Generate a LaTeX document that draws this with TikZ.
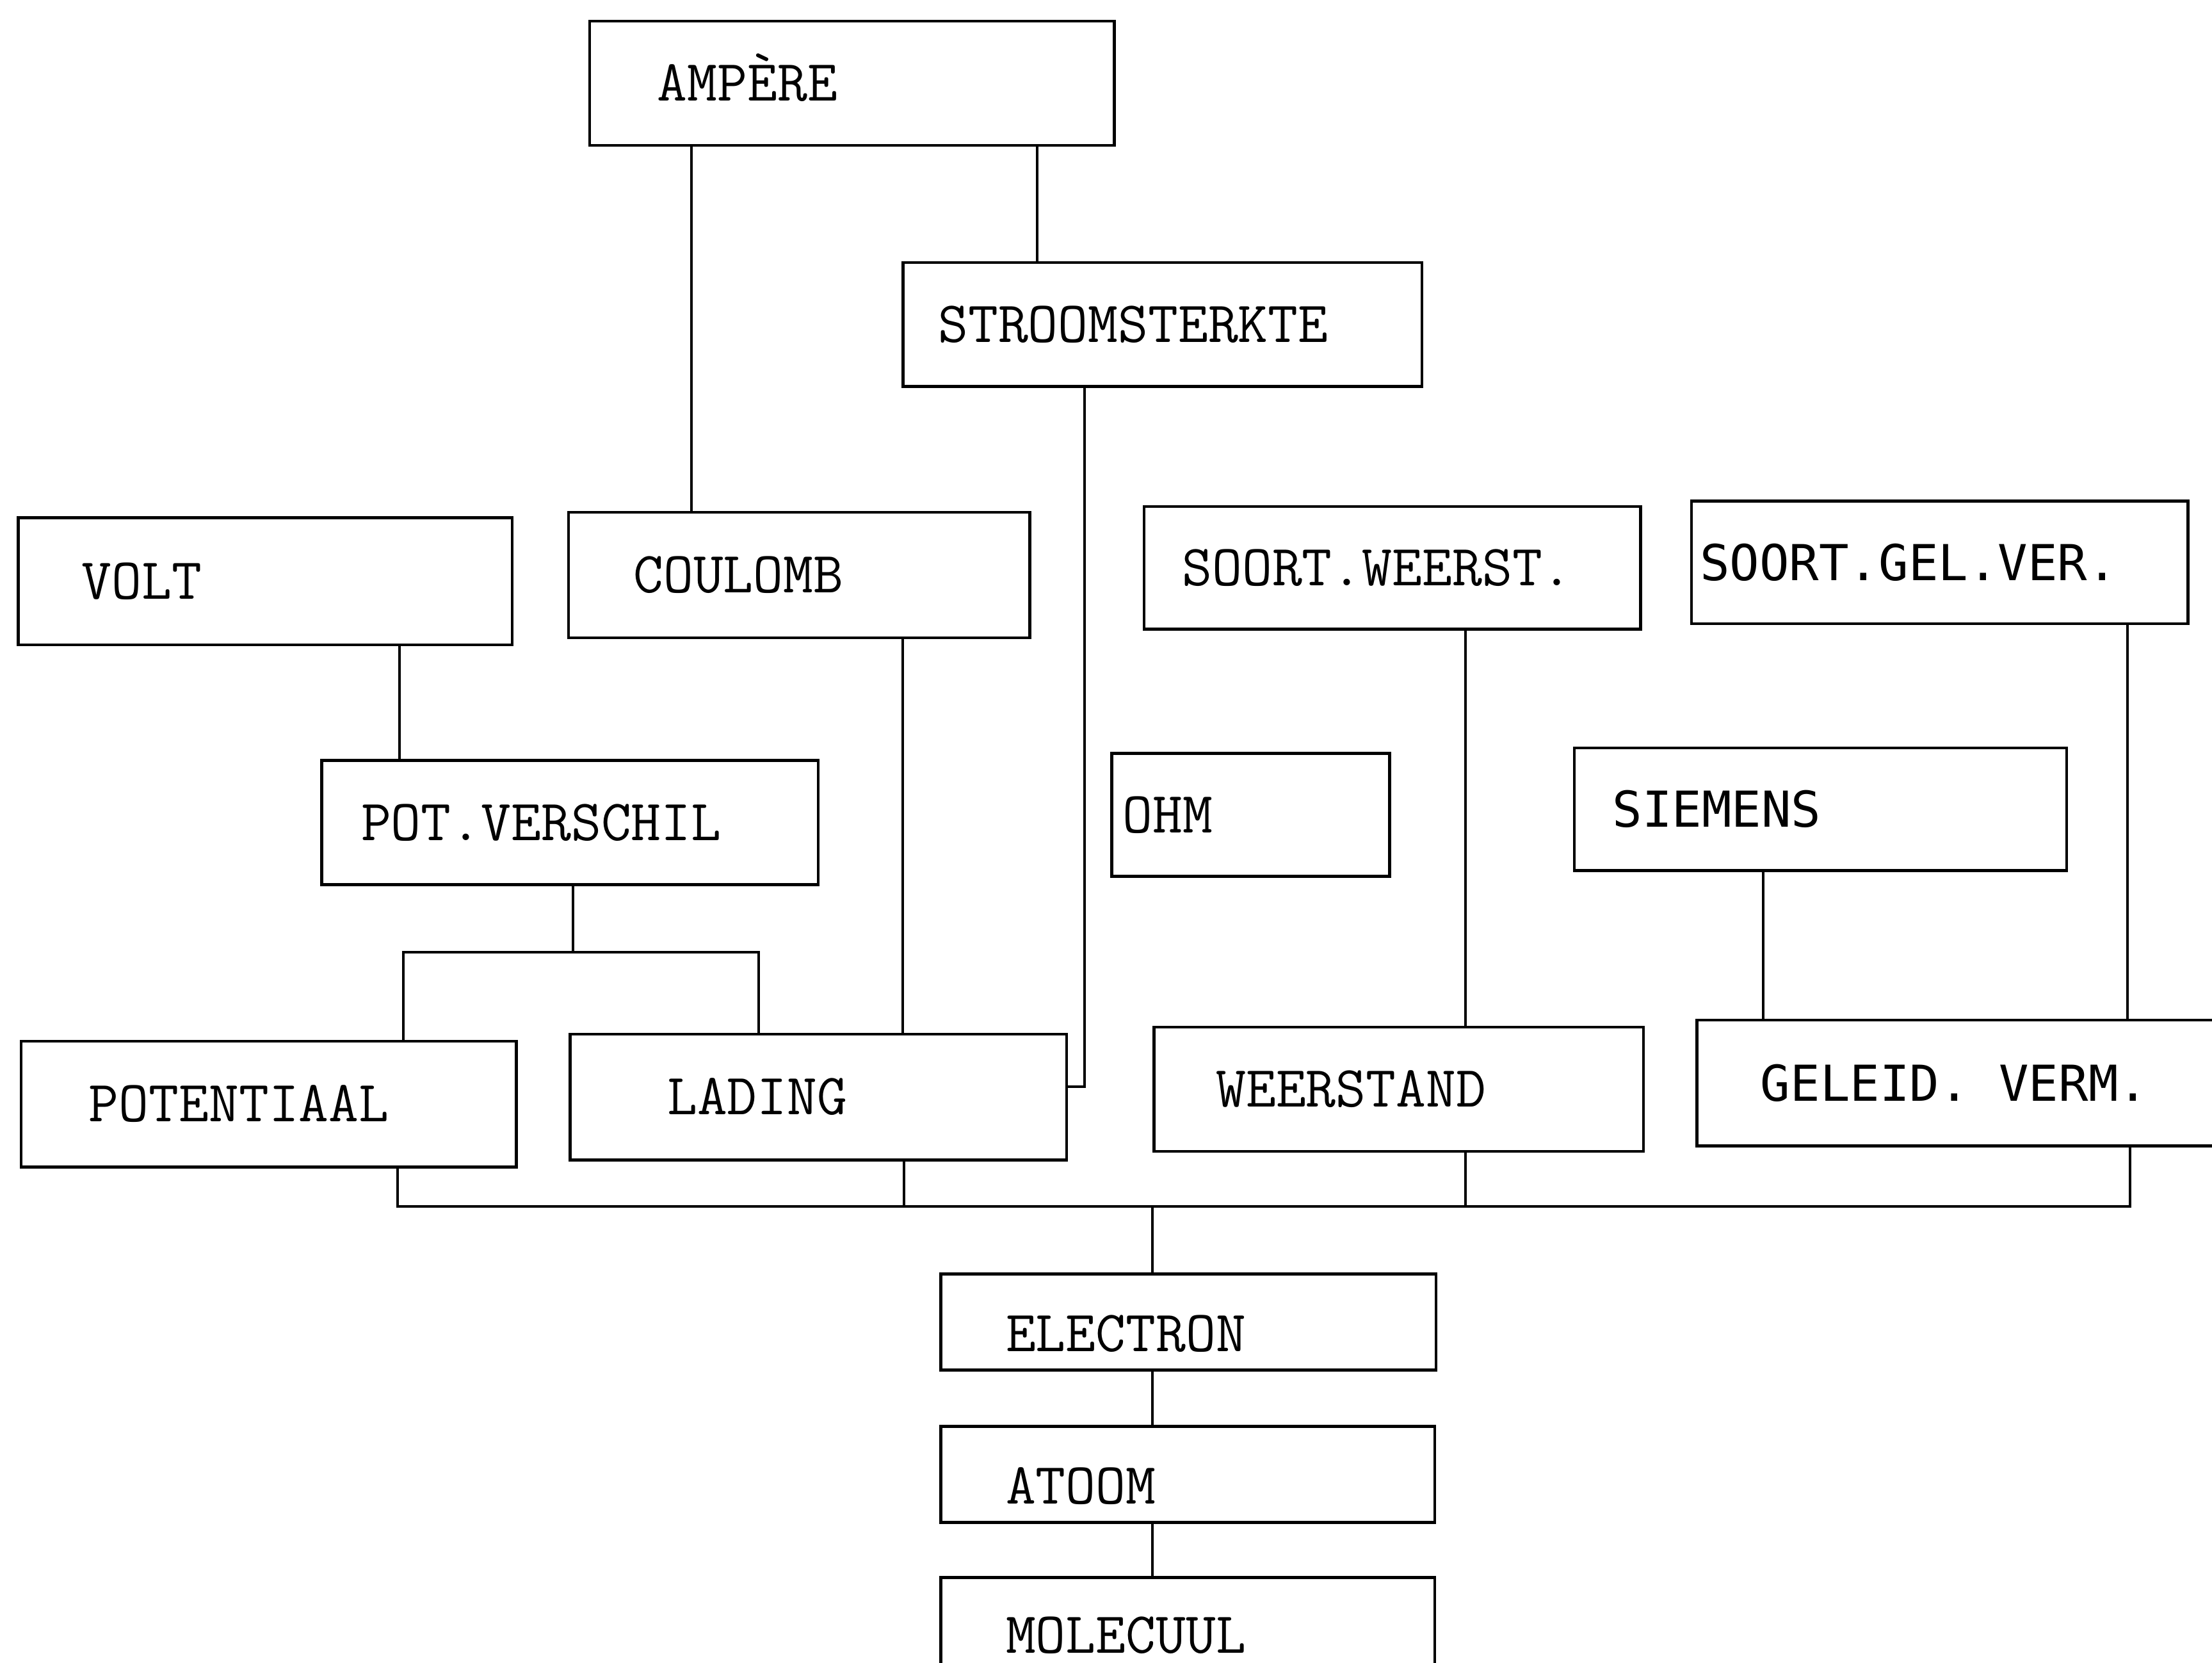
\documentclass[tikz,border=0pt]{standalone}
\usepackage{fontspec}
\newfontfamily\sansmono{DejaVu Sans Mono}
\newcommand\mkbox[8][]{%
  \pgfmathsetmacro\bxw{#5-#3}%
  \pgfmathsetmacro\bxh{#6-#4}%
  \pgfmathsetmacro\bxl{#7-#3}%
  \pgfmathsetmacro\bxt{\bxw-2*\bxl}%
  \node[tbox,#1,minimum width=\bxw pt,minimum height=\bxh pt,inner xsep=\bxl pt,inner ysep=0pt]
    (#2) at ({(#3+#5)/2},{(#4+#6)/2}) {\hbox to \bxt pt{#8\hss}};}
\begin{document}
\begin{tikzpicture}[x=1pt,y=-1pt,
  tbox/.style={draw,line width=2.1pt,rectangle,font=\ttfamily\fontsize{41.3}{49}\selectfont,text height=25.2pt,text depth=0pt},
  sbox/.style={font=\sansmono\fontsize{35.1}{42}\selectfont,text height=25.4pt},
  low/.style={text height=41.2pt},
  conn/.style={line width=1.8pt}]
\useasboundingbox (0,0) rectangle (1568,1178.6);
\fill[white] (0,0) rectangle (1568,1178.6);
\clip (0,0) rectangle (1568,1178.6);

% boxes: name, x1, y1, x2, y2, text x, text
\mkbox{ampere}{418}{15}{790}{103}{466}{AMPÈRE}
\mkbox{stroom}{640}{186}{1008}{274}{665}{STROOMSTERKTE}
\mkbox{volt}{13}{367}{363}{457}{58}{VOLT}
\mkbox{coulomb}{403}{363}{730}{452}{449}{COULOMB}
\mkbox{sw}{811}{359}{1163}{446}{838}{SOORT.WEERST.}
\mkbox[sbox]{sgv}{1199}{355}{1551}{442}{1205}{SOORT.GEL.VER.}
\mkbox{pot}{228}{539}{580}{627}{256}{POT.VERSCHIL}
\mkbox{ohm}{788}{534}{985}{621}{796}{OHM}
\mkbox[sbox]{siemens}{1116}{530}{1465}{617}{1143}{SIEMENS}
\mkbox{potentiaal}{15}{738}{366}{827}{63}{POTENTIAAL}
\mkbox{lading}{404}{733}{756}{822}{473}{LADING}
\mkbox{weerstand}{818}{728}{1165}{816}{862}{WEERSTAND}
\mkbox[sbox]{geleid}{1203}{723}{1590}{812}{1248}{GELEID. VERM.}
\mkbox[low]{electron}{667}{903}{1018}{971}{713}{ELECTRON}
\mkbox[low]{atoom}{667}{1011}{1017}{1079}{713}{ATOOM}
\mkbox[low]{molecuul}{667}{1118}{1017}{1184}{713}{MOLECUUL}

% helper coordinates
\coordinate (c490) at (490,0);
\coordinate (c735) at (735,0);
\coordinate (hook) at (769,770);
\coordinate (c283) at (283,0);
\coordinate (split) at (406,675);
\coordinate (s286) at (286,675);
\coordinate (s538) at (538,675);
\coordinate (c640) at (640,0);
\coordinate (c1039) at (1039,0);
\coordinate (c1508) at (1508,0);
\coordinate (c1250) at (1250,0);
\coordinate (b282) at (282,855);
\coordinate (b641) at (641,855);
\coordinate (b1039) at (1039,855);
\coordinate (b1510) at (1510,855);
\coordinate (b817) at (817,855);

% connectors
\draw[conn] (ampere.south -| c490) -- (coulomb.north -| c490);
\draw[conn] (ampere.south -| c735) -- (stroom.north -| c735);
\draw[conn] (stroom.south -| hook) -- (hook) -- (lading.east |- hook);
\draw[conn] (volt.south -| c283) -- (pot.north -| c283);
\draw[conn] (pot.south -| split) -- (split);
\draw[conn] (potentiaal.north -| s286) -- (s286) -- (s538) -- (lading.north -| s538);
\draw[conn] (coulomb.south -| c640) -- (lading.north -| c640);
\draw[conn] (sw.south -| c1039) -- (weerstand.north -| c1039);
\draw[conn] (sgv.south -| c1508) -- (geleid.north -| c1508);
\draw[conn] (siemens.south -| c1250) -- (geleid.north -| c1250);
\draw[conn] (potentiaal.south -| b282) -- (b282) -- (b1510) -- (geleid.south -| b1510);
\draw[conn] (lading.south -| b641) -- (b641);
\draw[conn] (weerstand.south -| b1039) -- (b1039);
\draw[conn] (b817) -- (electron.north -| b817);
\draw[conn] (electron.south -| b817) -- (atoom.north -| b817);
\draw[conn] (atoom.south -| b817) -- (molecuul.north -| b817);
\end{tikzpicture}
\end{document}
